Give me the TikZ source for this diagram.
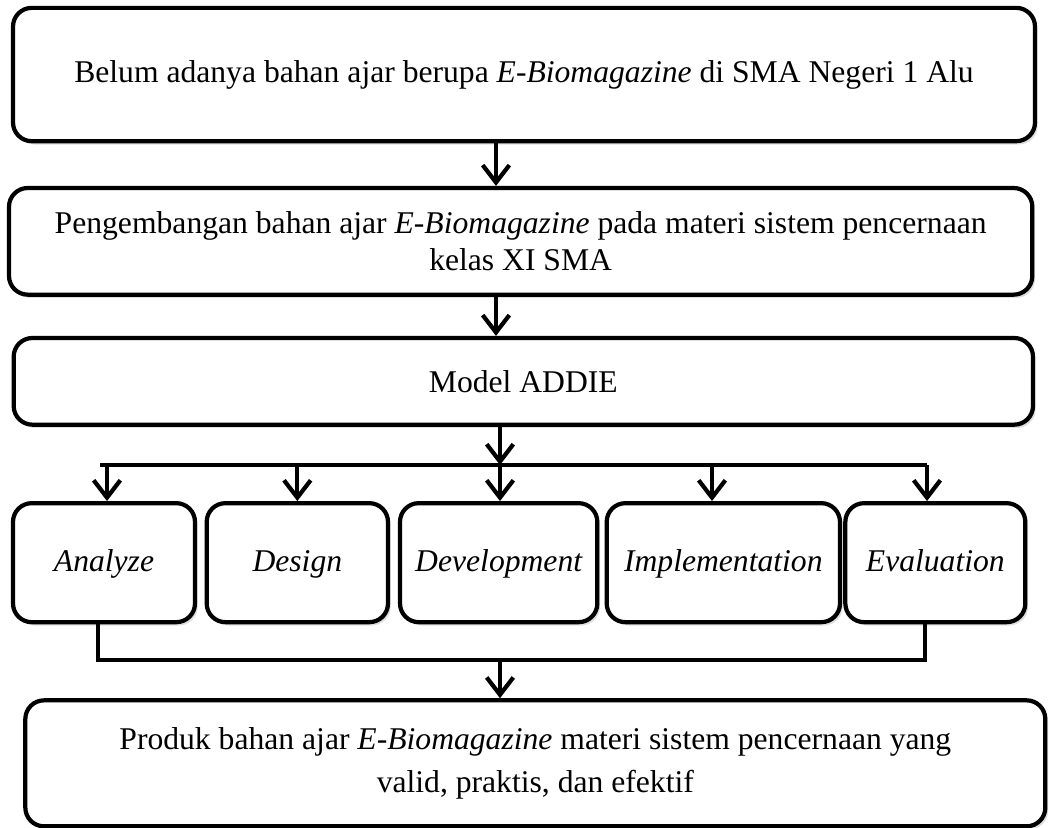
\documentclass[tikz,border=0pt]{standalone}
\usepackage{fontspec}
\setmainfont{Liberation Serif}
\usetikzlibrary{arrows.meta,positioning,shadows}

\begin{document}
\begin{tikzpicture}[
  flowbox/.style={draw,line width=1.8pt,rounded corners=8pt,align=center,
    font=\fontsize{13.5}{15.5}\selectfont,inner sep=2pt,fill=white,
    drop shadow={shadow xshift=0.04cm,shadow yshift=-0.05cm,opacity=0.25}},
  stagebox/.style={flowbox,minimum height=1.785cm,text height=2.2ex,text depth=0.6ex,
    font=\fontsize{13.5}{15.5}\selectfont\itshape},
  flowarr/.style={-{Straight Barb[length=0.26cm,width=0.4cm]},line width=1.8pt},
  flowline/.style={line width=1.8pt}
]
  \useasboundingbox (0,0) rectangle (15.735,-12.42);
  % Masalah
  \node[flowbox,minimum width=15.33cm,minimum height=2.0cm] (masalah) at (7.86,-1.118)
    {Belum adanya bahan ajar berupa \textit{E-Biomagazine} di SMA Negeri 1 Alu};
  % Pengembangan
  \node[flowbox,minimum width=15.35cm,minimum height=1.6cm] (kembang) at (7.81,-3.62)
    {Pengembangan bahan ajar \textit{E-Biomagazine} pada materi sistem pencernaan\\
     kelas XI SMA};
  % Model
  \node[flowbox,minimum width=15.29cm,minimum height=1.3cm] (model) at (7.85,-5.72)
    {Model ADDIE};
  % Tahap ADDIE
  \node[stagebox,minimum width=2.73cm] (analyze) at (1.56,-8.44) {Analyze};
  \node[stagebox,minimum width=2.72cm] (design) at (4.46,-8.44) {Design};
  \node[stagebox,minimum width=2.96cm] (develop) at (7.48,-8.44) {Development};
  \node[stagebox,minimum width=3.5cm] (implement) at (10.85,-8.44) {Implementation};
  \node[stagebox,minimum width=2.7cm] (evaluate) at (14.03,-8.44) {Evaluation};
  % Produk
  \node[flowbox,minimum width=15.3cm,minimum height=1.89cm] (produk) at (8.03,-11.45)
    {Produk bahan ajar \textit{E-Biomagazine} materi sistem pencernaan yang\\[3pt]
     valid, praktis, dan efektif};
  % Titik bantu
  \coordinate (ax) at (7.44,0);
  \coordinate (bx) at (7.5,0);
  \coordinate (busL) at (1.5,-6.975);
  \coordinate (busR) at (13.9,-6.975);
  \coordinate (bot) at (0,-9.9);
  % Panah utama
  \draw[flowarr] (masalah.south -| ax) -- (kembang.north -| ax);
  \draw[flowarr] (kembang.south -| ax) -- (model.north -| ax);
  \draw[flowarr] (model.south -| bx) -- (busL -| bx);
  % Percabangan ke tahap
  \draw[flowline] (busL) -- (busR);
  \draw[flowarr] (busL -| analyze) ++(0.045,0) -- ([xshift=0.045cm]analyze.north);
  \draw[flowarr] (busL -| design) -- (design.north);
  \draw[flowarr] (busL -| develop) ++(0.02,0) -- ([xshift=0.02cm]develop.north);
  \draw[flowarr] (busL -| implement) ++(-0.17,0) -- ([xshift=-0.17cm]implement.north);
  \draw[flowarr] (busL -| evaluate) ++(-0.125,0) -- ([xshift=-0.125cm]evaluate.north);
  % Penggabungan
  \draw[flowline] ([xshift=-0.09cm]analyze.south) |- (bot -| bx)
    -| ([xshift=-0.155cm]evaluate.south);
  \draw[flowarr] (bot -| bx) -- (produk.north -| bx);
\end{tikzpicture}
\end{document}
